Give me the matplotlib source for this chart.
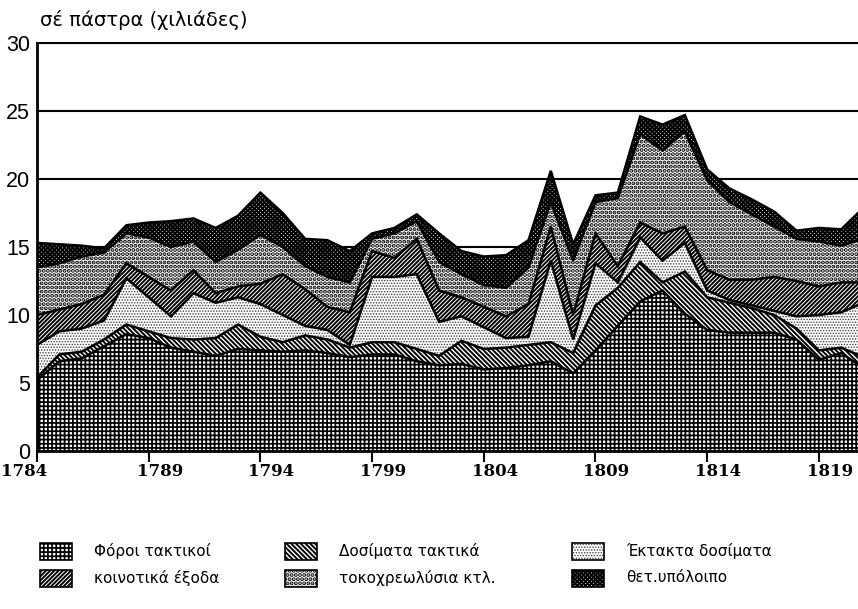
import matplotlib
matplotlib.use('Agg')
import matplotlib.pyplot as plt
import numpy as np
from matplotlib.patches import Rectangle
from matplotlib.transforms import ScaledTranslation

# ---------------- data (thousand piastres) ----------------
years = list(range(1784, 1822))
foroi_taktikoi = [5.2, 6.6, 6.8, 7.7, 8.6, 8.3, 7.6, 7.3, 7.0, 7.5, 7.4, 7.3, 7.4, 7.2, 6.9, 7.1,
                  7.1, 6.6, 6.3, 6.4, 6.0, 6.1, 6.3, 6.6, 5.7, 7.4, 9.2, 11.0, 11.8, 10.1, 8.9,
                  8.7, 8.7, 8.7, 8.2, 6.7, 7.2, 6.1]
dosimata_taktika = [0.2, 0.5, 0.5, 0.5, 0.7, 0.5, 0.7, 0.9, 1.3, 1.8, 1.0, 0.7, 1.1, 1.0, 0.7, 0.9,
                    0.9, 0.9, 0.7, 1.7, 1.5, 1.5, 1.5, 1.4, 1.5, 3.3, 2.8, 2.9, 0.6, 3.1, 2.4,
                    2.2, 1.8, 1.3, 0.8, 0.7, 0.4, 0.8]
ektakta_dosimata = [2.4, 1.7, 1.7, 1.4, 3.4, 2.5, 1.6, 3.4, 2.6, 2.0, 2.4, 2.0, 0.7, 0.7, 0.2, 4.8,
                    4.8, 5.5, 2.5, 1.8, 1.6, 0.7, 0.6, 6.0, 1.0, 3.1, 0.4, 1.8, 1.6, 2.1, 0.5,
                    0.2, 0.2, 0.3, 0.9, 2.6, 2.6, 4.0]
koinotika_exoda = [2.2, 1.6, 1.8, 1.9, 1.1, 1.5, 1.9, 1.7, 0.7, 0.8, 1.5, 3.0, 2.7, 1.7, 2.4, 1.9,
                   1.4, 2.6, 2.3, 1.4, 1.5, 1.6, 2.4, 2.5, 1.8, 2.2, 1.2, 1.1, 2.0, 1.2, 1.5,
                   1.5, 1.9, 2.5, 2.6, 2.1, 2.2, 1.5]
tokoxreolysia = [3.5, 3.4, 3.5, 3.1, 2.2, 2.9, 3.2, 2.1, 2.3, 2.7, 3.6, 2.0, 1.7, 2.2, 2.2, 0.9,
                 1.8, 1.3, 2.1, 1.7, 1.6, 2.1, 2.7, 1.8, 4.0, 2.3, 5.0, 6.5, 6.1, 7.0, 6.6,
                 5.7, 4.8, 3.7, 3.1, 3.3, 2.7, 3.2]
thet_ypoloipo = [1.8, 1.4, 0.8, 0.3, 0.6, 1.1, 1.9, 1.7, 2.5, 2.5, 3.1, 2.5, 2.0, 2.7, 2.3, 0.4,
                 0.4, 0.5, 2.1, 1.7, 2.1, 2.4, 2.0, 2.3, 1.2, 0.5, 0.4, 1.3, 1.9, 1.2, 0.8,
                 1.0, 1.1, 1.1, 0.6, 1.0, 1.2, 2.3]

series_labels = ['Φόροι τακτικοί', 'Δοσίματα τακτικά', 'Έκτακτα δοσίματα',
                 'κοινοτικά έξοδα', 'τοκοχρεωλύσια κτλ.', 'θετ.υπόλοιπο']
x_ticks = [1784, 1789, 1794, 1799, 1804, 1809, 1814, 1819]
y_ticks = [0, 5, 10, 15, 20, 25, 30]
title = 'σέ πάστρα (χιλιάδες)'

# ---------------- styles ----------------
styles = [
    dict(hatch='++++', color='black', hlw=1.25),
    dict(hatch='\\' * 7, color='black', hlw=1.4),
    dict(hatch='.' * 6, color='0.25', hlw=0.7),
    dict(hatch='/' * 8, color='black', hlw=1.4),
    dict(hatch='....', color='black', hlw=2.0),
    dict(hatch='x' * 8, color='black', hlw=1.4),
]

plt.rcParams['hatch.linewidth'] = 1.2
W, H = 858, 609
fig = plt.figure(figsize=(W / 100, H / 100), dpi=100)
x0_px, x1_px, ytop_px, ybot_px = 37, 858, 43, 451
ax = fig.add_axes([x0_px / W, 1 - ybot_px / H, (x1_px - x0_px) / W, (ybot_px - ytop_px) / H])
px_per_year = 22.34
ax.set_xlim(1784, 1784 + (x1_px - x0_px) / px_per_year)
ax.set_ylim(0, 30)

series = [foroi_taktikoi, dosimata_taktika, ektakta_dosimata,
          koinotika_exoda, tokoxreolysia, thet_ypoloipo]
base = np.zeros(len(years))
tops = []
for vals, st in zip(series, styles):
    top = base + np.array(vals)
    with plt.rc_context({'hatch.linewidth': st['hlw']}):
        coll = ax.fill_between(years, base, top, facecolor='white', edgecolor=st['color'],
                               hatch=st['hatch'], linewidth=0, zorder=2)
    if hasattr(coll, 'set_hatch_linewidth'):
        coll.set_hatch_linewidth(st['hlw'])
    tops.append(top)
    base = top
for top in tops:
    ax.plot(years, top, color='black', lw=1.8, zorder=3, solid_joinstyle='miter')

# grid / axes
ax.set_yticks(y_ticks)
ax.set_yticklabels([str(v) for v in y_ticks], fontsize=15.5, family='Liberation Sans')
ax.tick_params(axis='y', length=0, pad=5)
ax.yaxis.grid(True, color='black', lw=1.5, zorder=0)
ax.set_axisbelow(True)
ax.set_xticks(x_ticks)
ax.set_xticklabels([])
ax.tick_params(axis='x', direction='out', length=8, width=1.5)
for s in ['left', 'bottom']:
    ax.spines[s].set_linewidth(2)
ax.spines['top'].set_linewidth(1.5)
ax.spines['right'].set_visible(False)

xt = ax.get_xaxis_transform()
for i, yr in enumerate(x_ticks):
    dx = -13 if i == 0 else 11
    ax.text(yr, 0, str(yr), transform=xt + ScaledTranslation(dx / 100, -21 / 100, fig.dpi_scale_trans),
            ha='center', va='center', fontsize=12, fontweight='bold', family='DejaVu Serif',
            clip_on=False)

fig.text(40 / W, 1 - 20 / H, title, fontsize=14, ha='left', va='center', family='DejaVu Sans')

# ---------------- legend ----------------
leg_pos = [(40, 551), (285, 551), (572, 551), (40, 578), (285, 578), (572, 578)]
for (px, py), lab, st in zip(leg_pos, series_labels, styles):
    pw, ph = 32, 17
    rect_xy = (px / W, 1 - (py + ph / 2) / H)
    with plt.rc_context({'hatch.linewidth': st['hlw']}):
        r = Rectangle(rect_xy, pw / W, ph / H, transform=fig.transFigure, facecolor='white',
                      edgecolor=st['color'], hatch=st['hatch'], linewidth=0)
    if hasattr(r, 'set_hatch_linewidth'):
        r.set_hatch_linewidth(st['hlw'])
    fig.add_artist(r)
    fig.add_artist(Rectangle(rect_xy, pw / W, ph / H, transform=fig.transFigure,
                             facecolor='none', edgecolor='black', linewidth=1.2))
    fig.text((px + pw + 22) / W, 1 - py / H, lab, fontsize=11, ha='left', va='center',
             family='DejaVu Sans')

fig.savefig('out.png', dpi=100)
